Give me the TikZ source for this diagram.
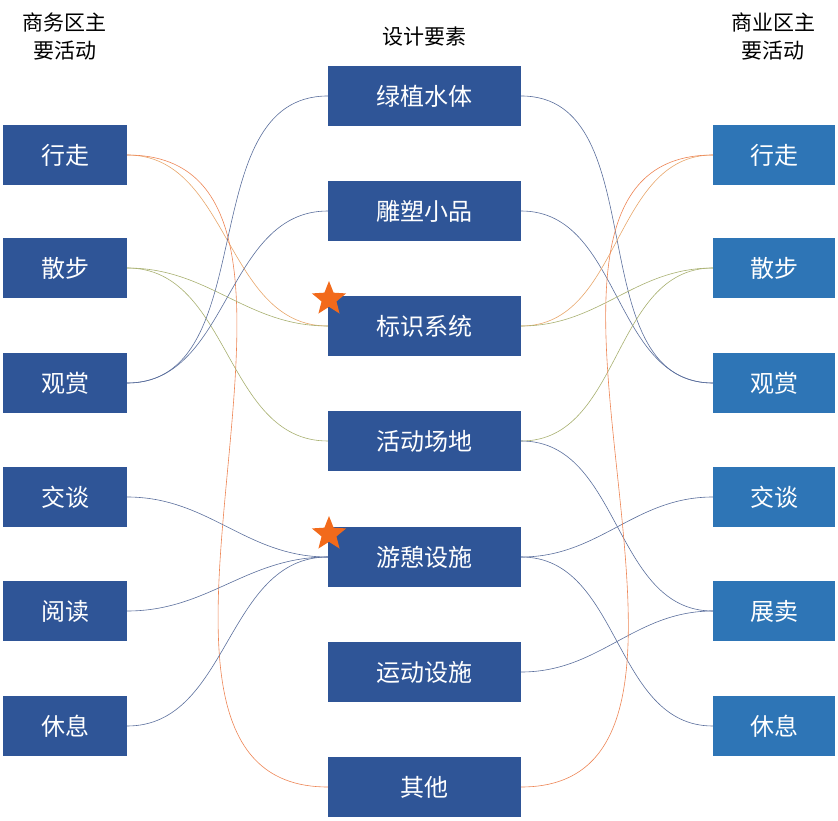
\documentclass[tikz,border=0pt]{standalone}
\usepackage{fontspec}
\setmainfont{Noto Sans CJK SC}
\usetikzlibrary{shapes.geometric}
\definecolor{dk}{HTML}{2F5597}
\definecolor{lt}{HTML}{2E75B6}
\definecolor{cor}{HTML}{E8A66A}
\definecolor{cgr}{HTML}{A8B070}
\definecolor{cbl}{HTML}{5A6E9C}
\definecolor{cst}{HTML}{F26A1B}
\begin{document}
\begin{tikzpicture}[x=1pt,y=-1pt,
  lbox/.style={fill=dk,text=white,minimum width=124pt,minimum height=60pt,inner sep=0,font=\fontsize{24}{26}\selectfont},
  mbox/.style={lbox,minimum width=193pt},
  rbox/.style={lbox,fill=lt,minimum width=122pt},
  hd/.style={align=center,font=\fontsize{21}{28}\selectfont},
  ln/.style={line width=0.6pt},
  st/.style={star,star points=5,star point ratio=2.3,fill=cst,inner sep=0,minimum size=36pt}]
\useasboundingbox (0,0) rectangle (838,821);
\node[hd] (h1) at (65,36) {商务区主\\要活动};
\node[hd] (h2) at (424,37) {设计要素};
\node[hd] (h3) at (773,36) {商业区主\\要活动};
\foreach \n/\t/\y in {1/行走/155,2/散步/268,3/观赏/383,4/交谈/497,5/阅读/611,6/休息/726}
  \node[lbox] (L\n) at (65,\y) {\t};
\foreach \n/\t/\y in {1/绿植水体/96,2/雕塑小品/211,3/标识系统/326,4/活动场地/441,5/游憩设施/557,6/运动设施/672,7/其他/787}
  \node[mbox] (M\n) at (424.5,\y) {\t};
\foreach \n/\t/\y in {1/行走/155,2/散步/268,3/观赏/383,4/交谈/497,5/展卖/611,6/休息/726}
  \node[rbox] (R\n) at (774,\y) {\t};
\node[st] (s1) at (329,299) {};
\node[st] (s2) at (329,534) {};
\begin{scope}[ln]
\draw[cor] (L1.east) to[out=0,in=180] (M3.west);
\draw[cor!80!red] (L1.east) to[out=0,in=180] (M7.west);
\draw[cgr] (L2.east) to[out=0,in=180] (M3.west);
\draw[cgr] (L2.east) to[out=0,in=180] (M4.west);
\draw[cbl] (L3.east) to[out=0,in=180] (M1.west);
\draw[cbl] (L3.east) to[out=0,in=180] (M2.west);
\draw[cbl] (L4.east) to[out=0,in=180] (M5.west);
\draw[cbl] (L5.east) to[out=0,in=180] (M5.west);
\draw[cbl] (L6.east) to[out=0,in=180] (M5.west);
\draw[cbl] (M1.east) to[out=0,in=180] (R3.west);
\draw[cbl] (M2.east) to[out=0,in=180] (R3.west);
\draw[cor] (M3.east) to[out=0,in=180] (R1.west);
\draw[cgr] (M3.east) to[out=0,in=180] (R2.west);
\draw[cgr] (M4.east) to[out=0,in=180] (R2.west);
\draw[cbl] (M4.east) to[out=0,in=180] (R5.west);
\draw[cbl] (M5.east) to[out=0,in=180] (R4.west);
\draw[cbl] (M5.east) to[out=0,in=180] (R6.west);
\draw[cbl] (M6.east) to[out=0,in=180] (R5.west);
\draw[cor!80!red] (M7.east) to[out=0,in=180] (R1.west);
\end{scope}
\end{tikzpicture}
\end{document}
